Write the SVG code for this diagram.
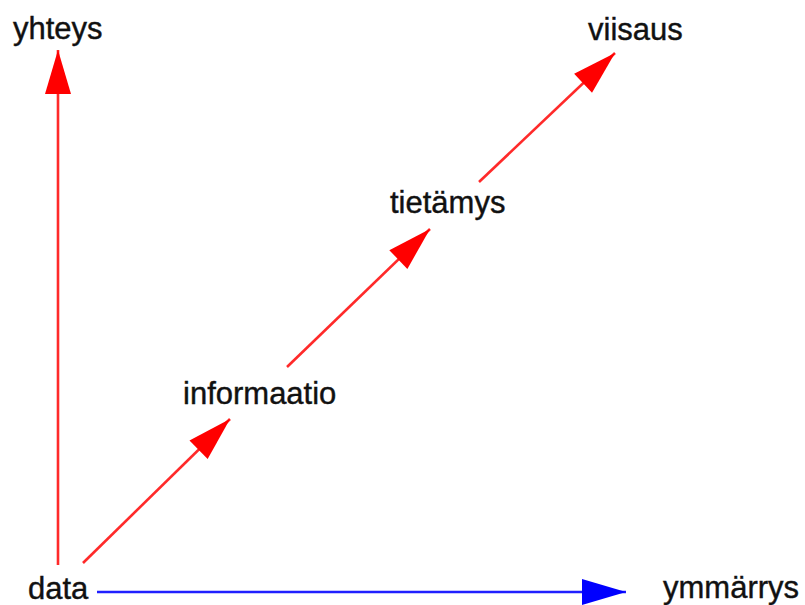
<svg xmlns="http://www.w3.org/2000/svg" width="805" height="605" viewBox="0 0 805 605">
  <style>
    .lbl { font-family: "Liberation Sans", Arial, sans-serif; font-size: 31px; fill: #111; stroke: #111; stroke-width: 0.4; }
    .red { stroke: #ff2a2a; stroke-width: 2.6; fill: none; }
    .blue { stroke: #2020ff; stroke-width: 2.6; fill: none; }
  </style>
  <defs>
    <marker id="headRed" markerUnits="userSpaceOnUse" markerWidth="50" markerHeight="34" viewBox="-46 -17 50 34" refX="0" refY="0" orient="auto">
      <path d="M0,0 L-44,-13 L-44,13 Z" fill="#ff0000"/>
    </marker>
    <marker id="headBlue" markerUnits="userSpaceOnUse" markerWidth="50" markerHeight="34" viewBox="-46 -17 50 34" refX="0" refY="0" orient="auto">
      <path d="M0,0 L-44,-13 L-44,13 Z" fill="#0000ff"/>
    </marker>
  </defs>

  <rect width="805" height="605" fill="#ffffff"/>

  <g id="connectors">
    <line class="red" x1="58" y1="565" x2="58" y2="50" marker-end="url(#headRed)"/>
    <line class="red" x1="83" y1="563" x2="230" y2="419" marker-end="url(#headRed)"/>
    <line class="red" x1="287" y1="367" x2="430" y2="229" marker-end="url(#headRed)"/>
    <line class="red" x1="479" y1="182" x2="615" y2="53" marker-end="url(#headRed)"/>
    <line class="blue" x1="97" y1="592" x2="626" y2="592" marker-end="url(#headBlue)"/>
  </g>

  <g id="yhteys"><text class="lbl" x="13" y="39">yhteys</text></g>
  <g id="viisaus"><text class="lbl" x="588" y="40">viisaus</text></g>
  <g id="tietamys"><text class="lbl" x="390" y="213">tietämys</text></g>
  <g id="informaatio"><text class="lbl" x="183" y="404">informaatio</text></g>
  <g id="data"><text class="lbl" x="28" y="599">data</text></g>
  <g id="ymmarrys"><text class="lbl" x="663" y="598">ymmärrys</text></g>
</svg>
